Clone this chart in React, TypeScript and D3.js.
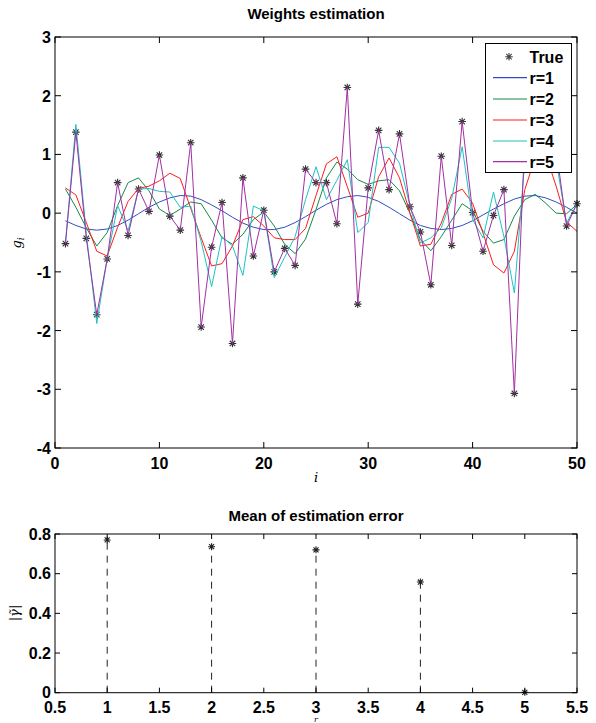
import React from "react";
import * as d3 from "d3";

const idx: number[] = Array.from({ length: 50 }, (_, k) => k + 1);

const trueVals = [-0.52, 1.38, -0.43, -1.73, -0.78, 0.52, -0.38, 0.41, 0.03, 0.99,
  -0.05, -0.29, 1.2, -1.94, -0.58, 0.18, -2.22, 0.6, -0.73, 0.05,
  -1.0, -0.6, -0.89, 0.75, 0.52, 0.52, -0.18, 2.14, -1.55, 0.43,
  1.41, 0.4, 1.35, 0.11, -0.32, -1.22, 0.97, -0.55, 1.56, 0.01,
  -0.65, -0.04, 0.4, -3.07, 1.3, 0.9, 1.6, 1.1, -0.22, 0.16];

const r1 = [-0.13, -0.21, -0.27, -0.29, -0.27, -0.21, -0.12, -0.01, 0.1, 0.19,
  0.26, 0.3, 0.29, 0.23, 0.14, 0.04, -0.07, -0.17, -0.24, -0.28,
  -0.28, -0.24, -0.16, -0.06, 0.05, 0.15, 0.23, 0.28, 0.3, 0.27,
  0.2, 0.1, -0.01, -0.12, -0.21, -0.26, -0.28, -0.26, -0.21, -0.13,
  -0.03, 0.07, 0.16, 0.24, 0.29, 0.3, 0.26, 0.19, 0.1, 0.0];

const r2 = [0.41, 0.1, -0.25, -0.56, -0.33, 0.13, 0.52, 0.6, 0.38, 0.07,
  -0.04, 0.07, 0.19, 0.16, -0.12, -0.42, -0.53, -0.36, -0.11, 0.02,
  -0.22, -0.53, -0.69, -0.44, 0.06, 0.6, 0.87, 0.75, 0.57, 0.49,
  0.55, 0.57, 0.38, 0.0, -0.45, -0.64, -0.4, -0.12, 0.16, 0.04,
  -0.31, -0.51, -0.45, -0.05, 0.23, 0.32, 0.17, 0.0, -0.01, 0.15];

const r3 = [0.43, 0.31, -0.16, -0.65, -0.73, -0.24, 0.2, 0.42, 0.46, 0.55,
  0.68, 0.59, 0.08, -0.42, -0.9, -0.86, -0.56, -0.11, -0.06, -0.22,
  -0.42, -0.45, -0.45, -0.26, 0.3, 0.84, 0.96, 0.45, -0.07, 0.0,
  0.62, 0.94, 0.6, 0.0, -0.56, -0.53, -0.17, 0.32, 0.41, 0.17,
  -0.34, -0.88, -1.02, -0.65, 0.4, 0.95, 1.0, 0.46, -0.15, -0.31];

const r4 = [-0.51, 1.51, -0.35, -1.88, -0.78, 0.13, -0.3, 0.41, 0.42, 0.37,
  0.36, 0.1, 0.12, -0.48, -1.25, -0.4, -0.56, -1.06, 0.12, 0.04,
  -1.1, -0.75, -0.4, 0.23, 0.79, 0.23, 0.56, 0.91, -0.33, -0.16,
  1.12, 1.12, 0.85, 0.12, -0.51, -0.42, -0.25, 0.25, 1.13, -0.11,
  -0.42, 0.36, -0.4, -1.36, 0.9, 0.8, 1.2, 0.9, -0.17, 0.16];

const r5 = trueVals;

const seriesNames = ["r=1", "r=2", "r=3", "r=4", "r=5"];
const seriesData = [r1, r2, r3, r4, r5];
const seriesColors = ["#2f4fbf", "#16884a", "#ff1c1c", "#1ec2c2", "#a32fa3"];

const topXTicks = [0, 10, 20, 30, 40, 50];
const topYTicks = [-4, -3, -2, -1, 0, 1, 2, 3];

const rVals = [1, 2, 3, 4, 5];
const errVals = [0.77, 0.736, 0.72, 0.558, 0.002];
const botXTicks = [0.5, 1, 1.5, 2, 2.5, 3, 3.5, 4, 4.5, 5, 5.5];
const botYTicks = [0, 0.2, 0.4, 0.6, 0.8];

const FONT = "'Liberation Sans', Arial, Helvetica, sans-serif";

function star(cx: number, cy: number, s: number) {
  const k = s * 0.72;
  return `M${cx - s},${cy}L${cx + s},${cy}M${cx},${cy - s}L${cx},${cy + s}M${cx - k},${cy - k}L${cx + k},${cy + k}M${cx - k},${cy + k}L${cx + k},${cy - k}`;
}

export default function App() {
  const L = 55, R = 577;
  const tx = d3.scaleLinear().domain([0, 50]).range([L, R]);
  const ty = d3.scaleLinear().domain([-4, 3]).range([448, 37]);
  const bx = d3.scaleLinear().domain([0.5, 5.5]).range([L, R]);
  const by = d3.scaleLinear().domain([0, 0.8]).range([692.7, 534]);

  const line = d3.line<number>().x((_, k) => tx(idx[k])).y((d) => ty(d));

  const tickLen = 6;
  const legX = 485.5, legY = 43.5, legW = 86, legH = 129;
  const rowY = [56.7, 77.7, 99, 120, 141, 161.7];

  return (
    <svg width={596} height={723} style={{ position: "absolute", left: 0, top: 0, background: "#fff" }}
      fontFamily={FONT}>
      <rect x={0} y={0} width={596} height={723} fill="#fff" />
      {/* ---------- TOP CHART ---------- */}
      <text x={(L + R) / 2} y={19} textAnchor="middle" fontSize={15} fontWeight="bold">Weights estimation</text>
      <path d={idx.map((i, k) => star(tx(i), ty(trueVals[k]), 3.8)).join("")} stroke="#333" strokeWidth={1.1} fill="none" />
      {seriesData.map((s, j) => (
        <path key={j} d={line(s) || ""} fill="none" stroke={seriesColors[j]} strokeWidth={1} />
      ))}
      <rect x={L} y={37} width={R - L} height={448 - 37} fill="none" stroke="#000" strokeWidth={1} />
      {topXTicks.map((t) => (
        <g key={"tx" + t}>
          <line x1={tx(t)} x2={tx(t)} y1={448} y2={448 - tickLen} stroke="#000" />
          <line x1={tx(t)} x2={tx(t)} y1={37} y2={37 + tickLen} stroke="#000" />
          <text x={tx(t)} y={469} textAnchor="middle" fontSize={16} fontWeight="bold">{t}</text>
        </g>
      ))}
      {topYTicks.map((t) => (
        <g key={"ty" + t}>
          <line x1={L} x2={L + tickLen} y1={ty(t)} y2={ty(t)} stroke="#000" />
          <line x1={R} x2={R - tickLen} y1={ty(t)} y2={ty(t)} stroke="#000" />
          <text x={51} y={ty(t) + 6} textAnchor="end" fontSize={16} fontWeight="bold">{String(t)}</text>
        </g>
      ))}
      <text x={316} y={482} textAnchor="middle" fontSize={13} fontStyle="italic" fontFamily="'DejaVu Serif', serif">i</text>
      <text transform="translate(21,243) rotate(-90)" textAnchor="middle" fontSize={13} fontStyle="italic" fontFamily="'DejaVu Serif', serif">
        g<tspan fontSize={9} dy={3}>i</tspan>
      </text>
      {/* legend */}
      <rect x={legX} y={legY} width={legW} height={legH} fill="#fff" stroke="#000" strokeWidth={1} />
      <path d={star(509, rowY[0], 3.8)} stroke="#444" strokeWidth={1.1} fill="none" />
      <text x={529.5} y={rowY[0] + 6} fontSize={16} fontWeight="bold">True</text>
      {seriesNames.map((n, j) => (
        <g key={n}>
          <line x1={493} x2={527} y1={rowY[j + 1]} y2={rowY[j + 1]} stroke={seriesColors[j]} strokeWidth={1.2} />
          <text x={529.5} y={rowY[j + 1] + 6} fontSize={16} fontWeight="bold">{n}</text>
        </g>
      ))}

      {/* ---------- BOTTOM CHART ---------- */}
      <text x={(L + R) / 2} y={521} textAnchor="middle" fontSize={15} fontWeight="bold">Mean of estimation error</text>
      {rVals.map((r, k) => (
        <line key={"st" + r} x1={bx(r)} x2={bx(r)} y1={by(0)} y2={by(errVals[k])} stroke="#222" strokeWidth={1} strokeDasharray="7,6" />
      ))}
      <path d={rVals.map((r, k) => star(bx(r), by(errVals[k]), 3.5)).join("")} stroke="#222" strokeWidth={1.1} fill="none" />
      <rect x={L} y={534} width={R - L} height={692.7 - 534} fill="none" stroke="#000" strokeWidth={1} />
      {botXTicks.map((t) => (
        <g key={"bx" + t}>
          <line x1={bx(t)} x2={bx(t)} y1={692.7} y2={692.7 - 5} stroke="#000" />
          <line x1={bx(t)} x2={bx(t)} y1={534} y2={534 + 5} stroke="#000" />
          <text x={bx(t)} y={713} textAnchor="middle" fontSize={16} fontWeight="bold">{t}</text>
        </g>
      ))}
      {botYTicks.map((t) => (
        <g key={"by" + t}>
          <line x1={L} x2={L + 5} y1={by(t)} y2={by(t)} stroke="#000" />
          <line x1={R} x2={R - 5} y1={by(t)} y2={by(t)} stroke="#000" />
          <text x={51} y={by(t) + 5.5} textAnchor="end" fontSize={16} fontWeight="bold">{t}</text>
        </g>
      ))}
      <text x={316} y={722} textAnchor="middle" fontSize={8} fontStyle="italic" fontFamily="'DejaVu Serif', serif">r</text>
      <text transform="translate(19,613) rotate(-90)" textAnchor="middle" fontSize={13} fontStyle="italic" fontFamily="'DejaVu Serif', serif">|γ̃|</text>
    </svg>
  );
}
